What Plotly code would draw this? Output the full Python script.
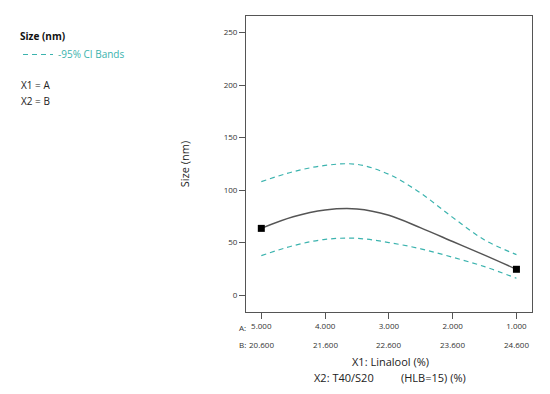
import plotly.graph_objects as go

# Data
x1_linalool = [5.0, 4.5, 4.0, 3.5, 3.0, 2.5, 2.0, 1.5, 1.0]
x2_t40s20 = [20.6, 21.1, 21.6, 22.1, 22.6, 23.1, 23.6, 24.1, 24.6]
size_pred = [63.5, 74.5, 81.0, 82.0, 76.0, 64.0, 51.0, 38.0, 24.5]
ci_upper = [108.0, 117.5, 123.5, 124.5, 115.0, 97.0, 74.0, 52.5, 38.5]
ci_lower = [37.5, 47.0, 53.0, 54.0, 50.0, 44.0, 36.0, 27.0, 16.0]

design_x1 = [5.0, 1.0]
design_size = [63.5, 24.5]

tick_a = [5.0, 4.0, 3.0, 2.0, 1.0]
tick_b = [20.6, 21.6, 22.6, 23.6, 24.6]

FONT = "Open Sans"
TEAL = "#3bb3ae"
GRAY = "#555555"

fig = go.Figure()
fig.add_trace(go.Scatter(x=x1_linalool, y=ci_upper, mode="lines", line=dict(color=TEAL, width=1.2, dash="5px,4px", shape="spline"),
                         name="-95% CI Bands", showlegend=True))
fig.add_trace(go.Scatter(x=x1_linalool, y=ci_lower, mode="lines", line=dict(color=TEAL, width=1.2, dash="5px,4px", shape="spline"),
                         showlegend=False))
fig.add_trace(go.Scatter(x=x1_linalool, y=size_pred, mode="lines", line=dict(color=GRAY, width=1.5, shape="spline"),
                         showlegend=False))
fig.add_trace(go.Scatter(x=design_x1, y=design_size, mode="markers", marker=dict(symbol="square", size=7, color="black"),
                         showlegend=False))

# page body has an 8px margin; the figure is sized to fit the 550x394 window
OFF = 8
W, H = 550 - OFF, 394 - OFF
L, T = 246 - OFF, 16 - OFF
R = W - (532 - OFF)
B = H - (312 - OFF)
pw, ph = W - L - R, H - T - B

def px_x(px):
    return (px - OFF - L) / pw

def px_y(py):
    return (H - B - (py - OFF)) / ph

annotations = []
for a, b in zip(tick_a, tick_b):
    annotations.append(dict(x=a, y=px_y(344), xref="x", yref="paper", text=f"{b:.3f}", showarrow=False,
                            font=dict(family=FONT, size=8, color="#333"), xanchor="center", yanchor="middle"))
annotations += [
    dict(x=px_x(242), y=px_y(327), xref="paper", yref="paper", text="A:", showarrow=False,
         font=dict(family=FONT, size=8, color="#333"), xanchor="center", yanchor="middle"),
    dict(x=px_x(242), y=px_y(344), xref="paper", yref="paper", text="B:", showarrow=False,
         font=dict(family=FONT, size=8, color="#333"), xanchor="center", yanchor="middle"),
    dict(x=px_x(390), y=px_y(361), xref="paper", yref="paper", text="X1: Linalool (%)", showarrow=False,
         font=dict(family=FONT, size=11, color="#222"), xanchor="center", yanchor="middle"),
    dict(x=px_x(312), y=px_y(377), xref="paper", yref="paper", text="X2: T40/S20", showarrow=False,
         font=dict(family=FONT, size=11, color="#222"), xanchor="left", yanchor="middle"),
    dict(x=px_x(468), y=px_y(377), xref="paper", yref="paper", text="(HLB=15) (%)", showarrow=False,
         font=dict(family=FONT, size=11, color="#222"), xanchor="right", yanchor="middle"),
    dict(x=px_x(19), y=px_y(85), xref="paper", yref="paper", text="X1 = A", showarrow=False,
         font=dict(family=FONT, size=10, color="#222"), xanchor="left", yanchor="middle"),
    dict(x=px_x(19), y=px_y(101), xref="paper", yref="paper", text="X2 = B", showarrow=False,
         font=dict(family=FONT, size=10, color="#222"), xanchor="left", yanchor="middle"),
]

fig.update_layout(
    width=W, height=H,
    margin=dict(l=L, r=R, t=T, b=B, autoexpand=False),
    paper_bgcolor="white", plot_bgcolor="white",
    font=dict(family=FONT, color="#222"),
    showlegend=True,
    legend=dict(x=px_x(18), y=px_y(27), xref="paper", yref="paper", xanchor="left", yanchor="top",
                title=dict(text="<b>Size (nm)</b>", font=dict(family=FONT, size=10, color="#111")),
                font=dict(family=FONT, size=10, color=TEAL), bgcolor="rgba(0,0,0,0)", itemwidth=30),
    xaxis=dict(range=[5.24, 0.756], tickvals=tick_a, ticktext=[f"{a:.3f}" for a in tick_a],
               showgrid=False, zeroline=False, showline=True, linecolor=GRAY, linewidth=1, mirror=True,
               ticks="outside", ticklen=6, tickcolor=GRAY, tickfont=dict(family=FONT, size=8, color="#333"),
               automargin=False),
    yaxis=dict(range=[-16.2, 265.9], tickvals=[0, 50, 100, 150, 200, 250],
               showgrid=False, zeroline=False, showline=True, linecolor=GRAY, linewidth=1, mirror=True,
               ticks="outside", ticklen=6, tickcolor=GRAY, tickfont=dict(family=FONT, size=8, color="#333"),
               automargin=False,
               title=dict(text="Size (nm)", font=dict(family=FONT, size=11, color="#222"), standoff=31)),
    annotations=annotations,
)

fig.write_html("out.html")
